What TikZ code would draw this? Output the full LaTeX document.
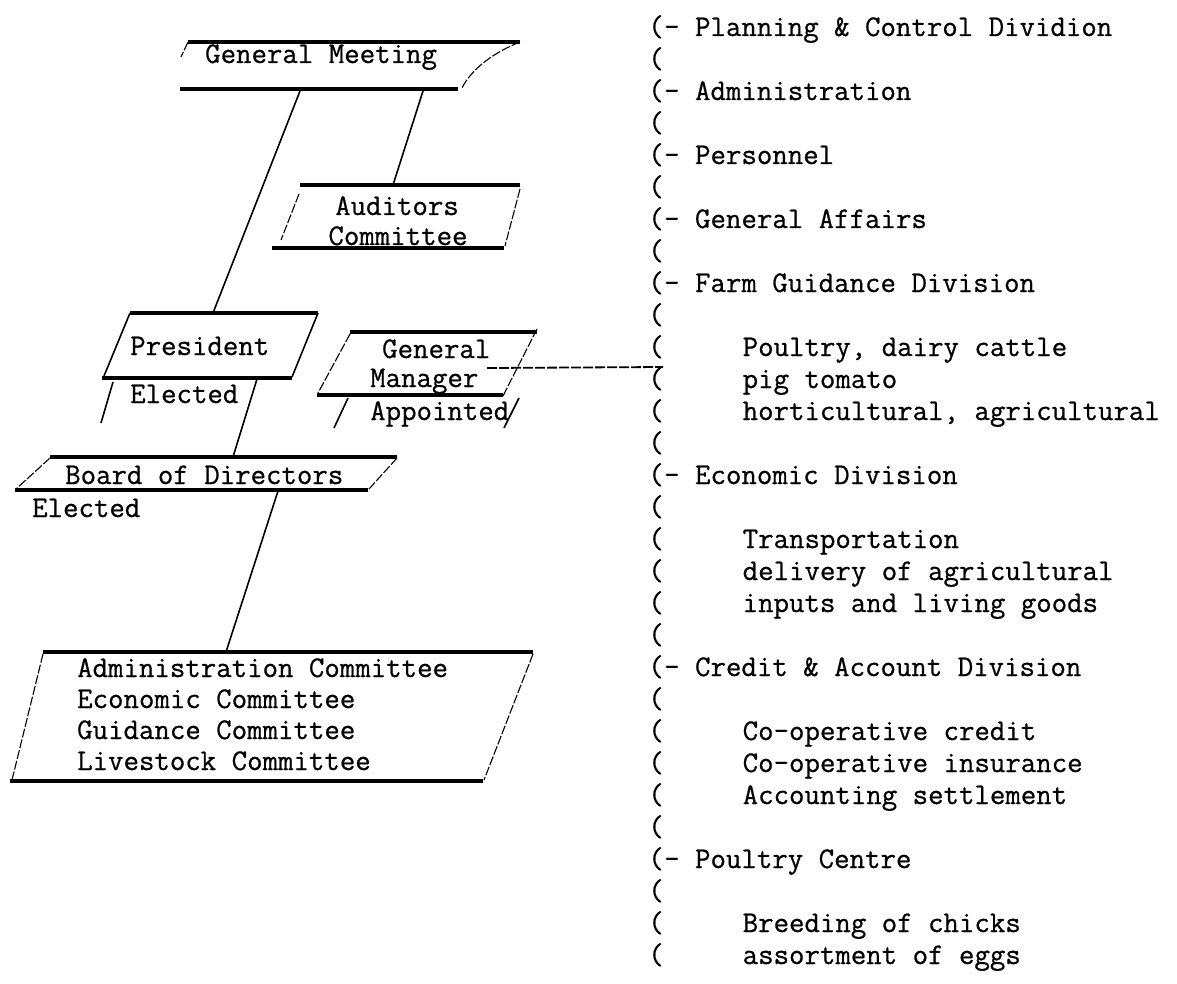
\documentclass[tikz,border=0pt]{standalone}
\usepackage{fontspec}
\usetikzlibrary{calc}
% typewriter face, slightly inked
\newfontfamily\typeface{Latin Modern Mono}[FakeBold=0.7]
\newcommand{\typefont}{\typeface\fontsize{30}{32}\selectfont}
\begin{document}
\begin{tikzpicture}[x=1pt,y=-1pt,
  every node/.style={font=\typefont, inner sep=0pt, anchor=base west},
  ctr/.style={anchor=base},
  rule/.style={line width=3.2pt},
  side/.style={line width=1.1pt, dash pattern=on 9pt off 2pt},
  link/.style={line width=1.6pt},
  busline/.style={line width=1.8pt, dash pattern=on 10pt off 2pt}]
\useasboundingbox (0,0) rectangle (1177,984);

% ---------------- General Meeting ----------------
\coordinate (gm-tl) at (188,42);  \coordinate (gm-tr) at (520,42);
\coordinate (gm-bl) at (180,89);  \coordinate (gm-br) at (458,89);
\draw[rule] (gm-tl) -- (gm-tr);
\draw[rule] (gm-bl) -- (gm-br);
\draw[side] (gm-tl) -- (181,57);
\draw[side] (gm-tr) .. controls (495,52) and (472,68) .. (462,88);
\node (gm) at (205,63) {General Meeting};
\coordinate (gm-o1) at (300,91);
\coordinate (gm-o2) at (423,91);

% ---------------- Auditors Committee ----------------
\coordinate (aud-tl) at (300,185); \coordinate (aud-tr) at (520,185);
\coordinate (aud-bl) at (272,248); \coordinate (aud-br) at (504,248);
\draw[rule] (aud-tl) -- (aud-tr);
\draw[rule] (aud-bl) -- (aud-br);
\draw[side] (299,194) -- (281,240);
\draw[side] (520,189) -- (505,246);
\node[ctr] (aud1) at (397,215) {Auditors};
\node[ctr] (aud2) at (398,245) {Committee};
\coordinate (aud-in) at (393,185);

% ---------------- President ----------------
\coordinate (pr-tl) at (130,313); \coordinate (pr-tr) at (318,313);
\coordinate (pr-bl) at (102,378); \coordinate (pr-br) at (292,378);
\draw[rule] (pr-tl) -- (pr-tr);
\draw[rule] (pr-bl) -- (pr-br);
\draw[link] (pr-tl) -- (104,376);
\draw[link] (pr-tr) -- (292,377);
\node (pres) at (130,355) {President};
\draw[link] (113,382) -- (101,423);
\node (pres-el) at (130,403) {Elected};
\coordinate (pr-in) at (213,313);
\coordinate (pr-out) at (257,379);

% ---------------- General Manager ----------------
\coordinate (mg-tl) at (350,332); \coordinate (mg-tr) at (537,332);
\coordinate (mg-bl) at (317,395); \coordinate (mg-br) at (503,395);
\draw[rule] (mg-tl) -- (mg-tr);
\draw[rule] (mg-bl) -- (mg-br);
\draw[side] (350,334) -- (318,393);
\draw[side] (537,329) -- (503,396);
\node (mg1) at (382,358) {General};
\node (mg2) at (370,387) {Manager};
\draw[link] (348,398) -- (334,428);
\draw[link] (519,398) -- (504,428);
\node (mg-ap) at (370,420) {Appointed};
\coordinate (mg-out) at (487,368);

% ---------------- Board of Directors ----------------
\coordinate (bd-tl) at (50,457);  \coordinate (bd-tr) at (397,457);
\coordinate (bd-bl) at (15,490);  \coordinate (bd-br) at (368,490);
\draw[rule] (bd-tl) -- (bd-tr);
\draw[rule] (bd-bl) -- (bd-br);
\draw[side] (50,458) -- (16,489);
\draw[side] (397,458) -- (369,489);
\node (board) at (65,484) {Board of Directors};
\node (board-el) at (32,517) {Elected};
\coordinate (bd-in) at (233,457);
\coordinate (bd-out) at (278,491);

% ---------------- Committees ----------------
\coordinate (cm-tl) at (43,652);  \coordinate (cm-tr) at (533,652);
\coordinate (cm-bl) at (10,781);  \coordinate (cm-br) at (483,781);
\draw[rule] (cm-tl) -- (cm-tr);
\draw[rule] (cm-bl) -- (cm-br);
\draw[side] (43,654) -- (12,780);
\draw[side] (533,654) -- (484,780);
\node (cm1) at (77,677) {Administration Committee};
\node (cm2) at (77,708) {Economic Committee};
\node (cm3) at (77,739) {Guidance Committee};
\node (cm4) at (77,770) {Livestock Committee};
\coordinate (cm-in) at (226,652);

% ---------------- connectors ----------------
\draw[link] (gm-o1) -- (pr-in);
\draw[link] (gm-o2) -- (aud-in);
\draw[link] (pr-out) -- (bd-in);
\draw[link] (bd-out) -- (cm-in);

% ---------------- divisions column ----------------
\foreach \n in {0,...,29}
  \node (par\n) at (648,36+32*\n) {(};
\coordinate (bus) at (663,367);
\draw[busline] (mg-out) -- (bus);

\foreach \n/\name/\txt in {
   0/plan/{- Planning \& Control Dividion},
   2/admin/{- Administration},
   4/pers/{- Personnel},
   6/affairs/{- General Affairs},
   8/farm/{- Farm Guidance Division},
  14/econ/{- Economic Division},
  20/credit/{- Credit \& Account Division},
  26/poultry/{- Poultry Centre}}
  \node (\name) at (664,36+32*\n) {\txt};

\foreach \n/\name/\txt in {
  10/farm1/{Poultry, dairy cattle},
  11/farm2/{pig tomato},
  12/farm3/{horticultural, agricultural},
  16/econ1/{Transportation},
  17/econ2/{delivery of agricultural},
  18/econ3/{inputs and living goods},
  22/credit1/{Co-operative credit},
  23/credit2/{Co-operative insurance},
  24/credit3/{Accounting settlement},
  28/poultry1/{Breeding of chicks},
  29/poultry2/{assortment of eggs}}
  \node (\name) at (742.5,36+32*\n) {\txt};
\end{tikzpicture}
\end{document}
